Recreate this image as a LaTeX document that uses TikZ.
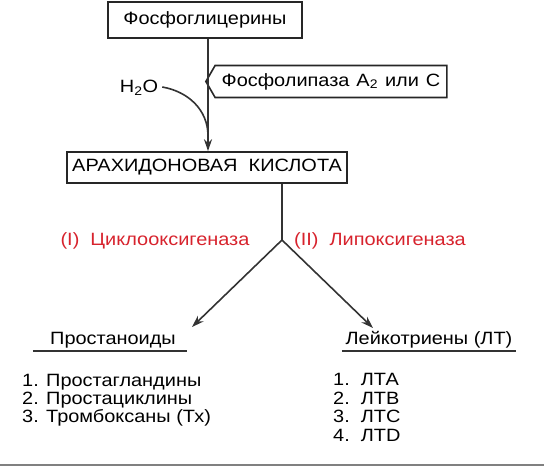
\documentclass[tikz,border=0pt]{standalone}
\usepackage{fontspec}
\setmainfont{Liberation Sans}[FakeStretch=1.12]
\usepackage{xcolor}
\usetikzlibrary{arrows.meta, positioning, calc, shapes.symbols}
\definecolor{enzred}{RGB}{215,35,45}

\begin{document}
\begin{tikzpicture}[x=1pt, y=-1pt, font=\fontsize{17.8}{18}\selectfont,
  box/.style={draw=black!85, line width=1.6pt, inner sep=0pt, minimum height=32pt},
  link/.style={draw=black!80, line width=1.6pt},
  tip/.style={-{Stealth[length=12pt, width=8pt]}},
  enzlabel/.style={text=enzred, inner sep=0pt},
  group/.style={inner xsep=0pt, inner ysep=2pt, text height=13pt, text depth=4pt}]
  \useasboundingbox (0,0) rectangle (544,466);
  % Boxes
  \node[box, minimum width=194pt, minimum height=36pt] (glyc) at (205,20) {Фосфоглицерины};
  \node[box, minimum width=280pt, minimum height=31pt] (arach) at (207,167.5) {АРАХИДОНОВАЯ\ \ КИСЛОТА};
  \node[box, shape=signal, signal to=west, signal pointer angle=120,
        minimum width=241pt, inner xsep=3pt] (enz) at (331,81.5)
    {Фосфолипаза\hspace{7pt}A\textsubscript{2}\hspace{7pt}или\hspace{7pt}C};
  \node[inner sep=0pt] (water) at (139,88) {H\textsubscript{2}O};
  % Hydrolysis
  \coordinate (join) at (208,136);
  \draw[link, tip] (glyc.south -| join) -- (arach.north -| join);
  \draw[link] (water.east) ++(4,-1) to[out=-10, in=90] (join);
  % Branching
  \coordinate (fork) at (282,240);
  \coordinate (tipL) at (192,327);
  \coordinate (tipR) at (373,328);
  \draw[link] (arach.south -| fork) -- (fork);
  \draw[link, tip] (fork) -- (tipL);
  \draw[link, tip] (fork) -- (tipR);
  \node[enzlabel] (cox) at (155,241) {(I)\ \ Циклооксигеназа};
  \node[enzlabel] (lox) at (380,241) {(II)\ \ Липоксигеназа};
  % Product groups
  \node[group, anchor=south, minimum width=154pt] (prost) at (110,351) {\hspace*{6pt}Простаноиды};
  \node[group, anchor=south, minimum width=174pt] (leuk) at (429,351) {Лейкотриены (ЛТ)};
  \draw[link] (prost.south west) -- (prost.south east);
  \draw[link] (leuk.south west) -- (leuk.south east);
  \node[anchor=north west, inner sep=0pt, align=left] (prostlist) at (22,374)
    {1. Простагландины\\2. Простациклины\\3. Тромбоксаны (Тх)};
  \node[anchor=north west, inner sep=0pt, align=left, font=\fontsize{17.8}{18.7}\selectfont] (leuklist) at (333,373)
    {1.\ \ ЛТА\\2.\ \ ЛТВ\\3.\ \ ЛТС\\4.\ \ ЛТD};
  \draw[gray, line width=1.5pt] (0,465) -- (544,465);
\end{tikzpicture}
\end{document}
